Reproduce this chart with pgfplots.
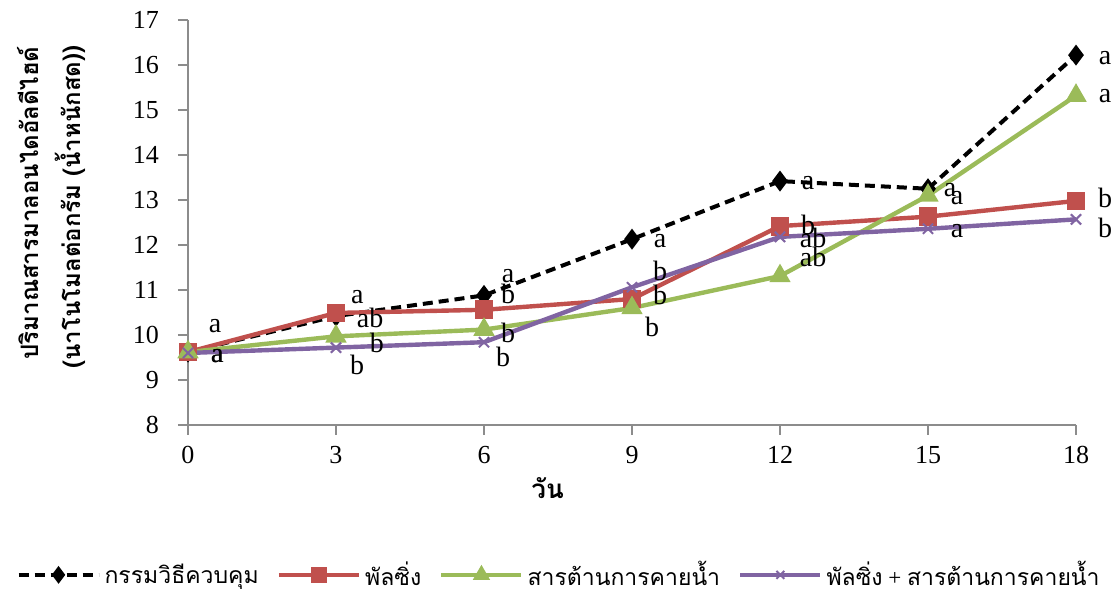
\documentclass[border=0pt]{standalone}
\usepackage{pgfplots}
\pgfplotsset{compat=1.18}
\usepackage{fontspec}
\setmainfont{Liberation Serif}
\newfontfamily\thai[Script=Thai]{Loma}
\newfontfamily\lser{Liberation Serif}
\definecolor{cred}{HTML}{C0504D}
\definecolor{cgreen}{HTML}{9BBB59}
\definecolor{cpurple}{HTML}{8064A2}
\definecolor{axgray}{HTML}{8C8C8C}
\begin{document}
\begin{tikzpicture}
\begin{axis}[
  scale only axis, width=444pt, height=202.5pt,
  xmin=0, xmax=18, ymin=8, ymax=17,
  xtick={0,3,...,18}, ytick={8,...,17},
  axis x line=bottom, axis y line=left,
  axis line style={-, axgray, line width=0.8pt},
  tick style={axgray, line width=0.8pt},
  tick align=outside, major tick length=5pt,
  /pgf/number format/assume math mode=true,
  tick label style={font=\fontsize{13}{15}\selectfont},
  xticklabel style={yshift=-2pt},
  yticklabel style={xshift=-6pt},
  legend columns=4,
  legend style={at={(0.419,-0.37)}, anchor=center, draw=none,
    font=\thai\fontsize{11.5}{14}\selectfont,
    nodes={inner xsep=2pt},
    /tikz/every even column/.append style={column sep=7pt}},
  legend image code/.code={\draw[mark repeat=2,mark phase=2,mark size=2.8pt] plot coordinates {(0pt,0pt)(20pt,0pt)(40pt,0pt)};},
  clip=false,
]
\addplot[black, line width=2pt, dash pattern=on 5pt off 3pt, mark=diamond*, mark size=3.6pt, mark options={solid}]
  coordinates {(0,9.62)(3,10.42)(6,10.88)(9,12.13)(12,13.42)(15,13.25)(18,16.22)};
\addlegendentry{กรรมวิธีควบคุม}
\addplot[cred, line width=2.2pt, mark=square*, mark size=3.6pt]
  coordinates {(0,9.62)(3,10.49)(6,10.56)(9,10.80)(12,12.42)(15,12.63)(18,12.98)};
\addlegendentry{พัลซิ่ง}
\addplot[cgreen, line width=2.2pt, mark=triangle*, mark size=4pt]
  coordinates {(0,9.62)(3,9.97)(6,10.12)(9,10.60)(12,11.31)(15,13.10)(18,15.32)};
\addlegendentry{สารต้านการคายน้ำ}
\addplot[cpurple, line width=2.2pt, mark=x, mark size=3.6pt, mark options={line width=1pt}]
  coordinates {(0,9.60)(3,9.72)(6,9.84)(9,11.06)(12,12.18)(15,12.36)(18,12.57)};
\addlegendentry{พัลซิ่ง{\lser\ + }สารต้านการคายน้ำ}

\tikzset{lab/.style={inner sep=0pt, text height=0.45em, text depth=0pt, anchor=center, font=\fontsize{14}{16}\selectfont}}
\node[lab] at (axis cs:0.55,10.16) {a};
\node[lab] at (axis cs:0.59,9.49) {a};
\node[lab] at (axis cs:0.60,9.49) {a};
\node[lab] at (axis cs:3.43,10.80) {a};
\node[lab] at (axis cs:3.69,10.27) {ab};
\node[lab] at (axis cs:3.83,9.71) {b};
\node[lab] at (axis cs:3.43,9.22) {b};
\node[lab] at (axis cs:6.49,11.27) {a};
\node[lab] at (axis cs:6.49,10.80) {b};
\node[lab] at (axis cs:6.49,9.93) {b};
\node[lab] at (axis cs:6.39,9.40) {b};
\node[lab] at (axis cs:9.57,12.04) {a};
\node[lab] at (axis cs:9.57,11.31) {b};
\node[lab] at (axis cs:9.57,10.78) {b};
\node[lab] at (axis cs:9.41,10.07) {b};
\node[lab] at (axis cs:12.57,13.33) {a};
\node[lab] at (axis cs:12.57,12.33) {b};
\node[lab] at (axis cs:12.67,12.04) {ab};
\node[lab] at (axis cs:12.67,11.62) {ab};
\node[lab] at (axis cs:15.45,13.18) {a};
\node[lab] at (axis cs:15.59,13.00) {a};
\node[lab] at (axis cs:15.59,12.27) {a};
\node[lab] at (axis cs:18.59,16.11) {a};
\node[lab] at (axis cs:18.59,15.27) {a};
\node[lab] at (axis cs:18.59,12.93) {b};
\node[lab] at (axis cs:18.59,12.27) {b};

\node[font=\thai\bfseries\fontsize{13}{15}\selectfont] at ([yshift=-31.5pt]rel axis cs:0.405,0) {วัน};
\node[rotate=90, font=\thai\bfseries\fontsize{12}{14}\selectfont] at ([xshift=-80pt]rel axis cs:0,0.548) {ปริมาณสารมาลอนไดอัลดีไฮด์};
\node[rotate=90, font=\thai\bfseries\fontsize{12}{14}\selectfont] at ([xshift=-59pt]rel axis cs:0,0.538) {(นาโนโมลต่อกรัม (น้ำหนักสด))};
\coordinate (bl) at (rel axis cs:0,0);
\coordinate (tr) at (rel axis cs:1,1);
\end{axis}
\pgfresetboundingbox
\path ([xshift=-94pt,yshift=-83.5pt]bl) rectangle ([xshift=21pt,yshift=10pt]tr);
\end{tikzpicture}
\end{document}
